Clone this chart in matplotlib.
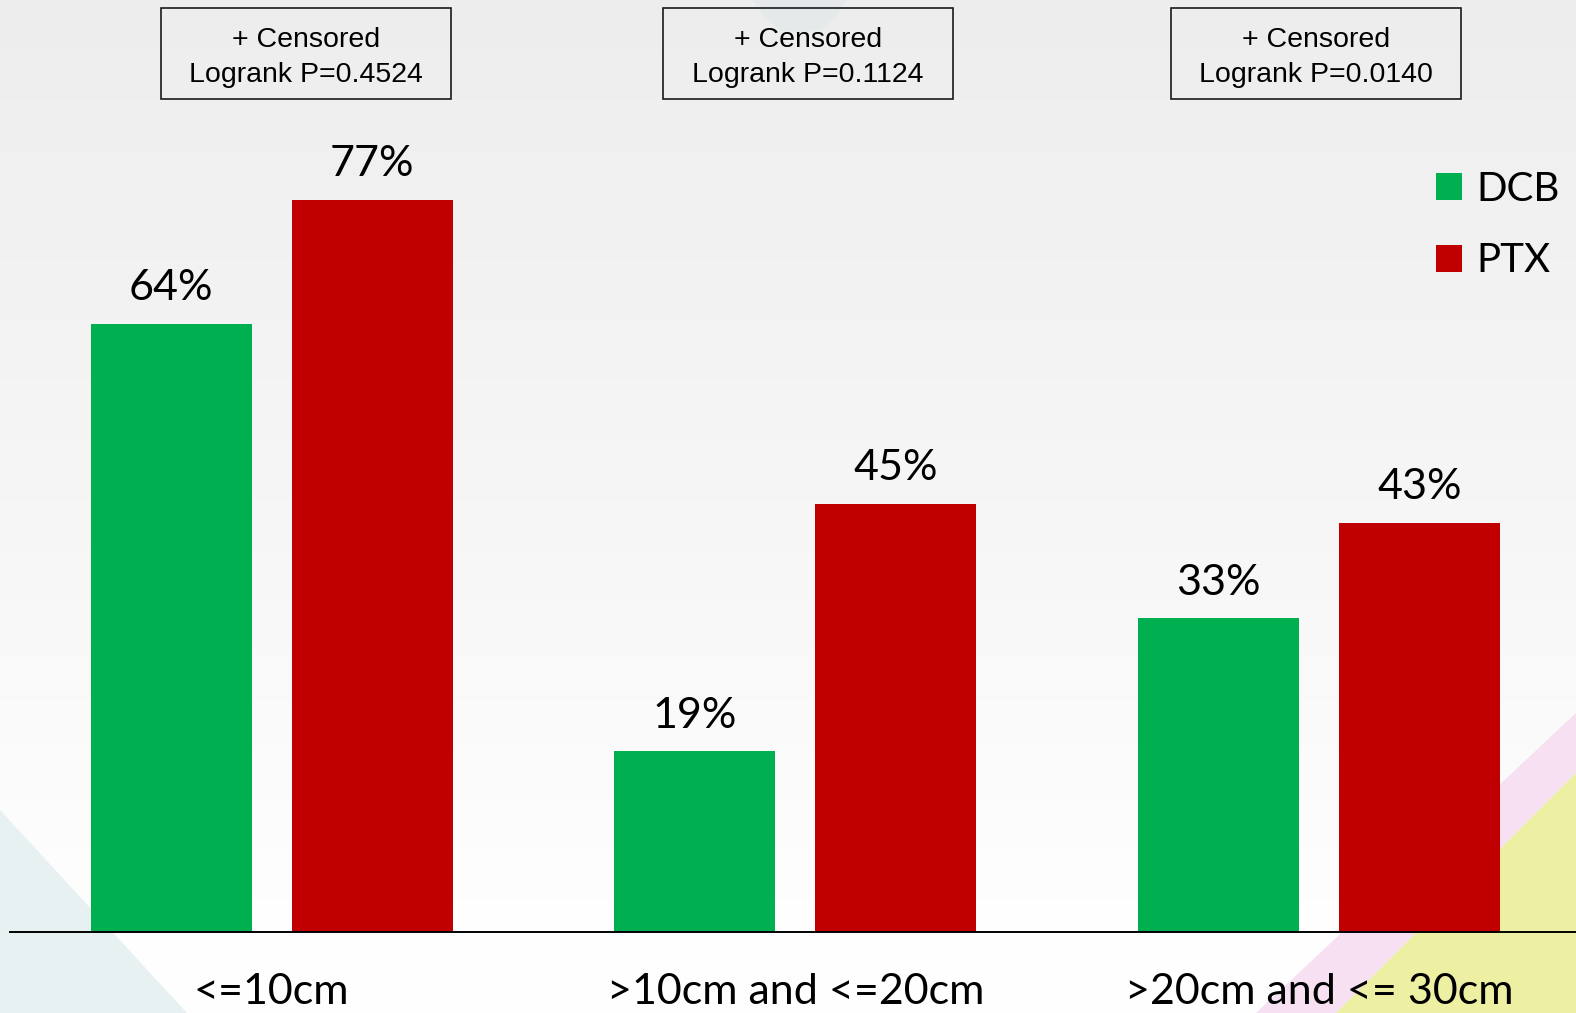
import numpy as np
import matplotlib
matplotlib.use("Agg")
from matplotlib import pyplot as plt
from matplotlib.patches import Rectangle, Polygon

# Значения по группам длины поражения
categories = ["<=10cm", ">10cm and <=20cm", ">20cm and <= 30cm"]
dcb_values = [64, 19, 33]
ptx_values = [77, 45, 43]
series_names = ["DCB", "PTX"]
logrank_p = ["0.4524", "0.1124", "0.0140"]

W, H = 1576, 1013
GREEN = "#00B050"
RED = "#C00000"

fig = plt.figure(figsize=(W / 100, H / 100), dpi=100)

# Фон слайда: вертикальный градиент и декоративные треугольники (в пикселях)
bg = fig.add_axes([0, 0, 1, 1], zorder=0)
bg.set_xlim(0, W)
bg.set_ylim(H, 0)
bg.axis("off")
stops_y = [0, 200, 500, 750, 900, H]
stops_c = [237, 241, 246, 251, 254, 255]
col = np.interp(np.arange(H), stops_y, stops_c) / 255.0
grad = np.stack([col, col, col], axis=-1).reshape(H, 1, 3)
bg.imshow(grad, extent=[0, W, H, 0], aspect="auto", interpolation="bilinear")
bg.add_patch(Polygon([(0, 810), (187, 1013), (0, 1013)], closed=True, color="#E8F1F2", lw=0))
bg.add_patch(Polygon([(1576, 713), (1256, 1013), (1576, 1013)], closed=True, color="#F6E0F2", lw=0))
bg.add_patch(Polygon([(1576, 773), (1336, 1013), (1576, 1013)], closed=True, color="#EDEFA2", lw=0))
bg.add_patch(Polygon([(752, 0), (847, 0), (835, 18), (820, 30), (800, 33), (781, 30), (765, 18)],
                     closed=True, color="#E5E9E9", lw=0))

# Рамки с результатами логранк-теста
box_left = [161, 663, 1171]
box_w, box_top, box_h = 290, 8, 91
for left, p in zip(box_left, logrank_p):
    bg.add_patch(Rectangle((left, box_top), box_w, box_h, fill=False, ec="#1a1a1a", lw=1.2))
    cx = left + box_w / 2
    bg.text(cx, 46.5, "+ Censored", ha="center", va="baseline",
            fontsize=20.5, family="Liberation Sans", color="black")
    bg.text(cx, 81.5, "Logrank P=" + p, ha="center", va="baseline",
            fontsize=20.5, family="Liberation Sans", color="black")

# Основной график со столбцами
ax = fig.add_axes([0, 0, 1, 1], zorder=1)
ax.patch.set_alpha(0)
ax.set_xlim(-0.519, 2.491)
ax.set_ylim(-8.55, 98.04)
ax.axis("off")

x = np.arange(len(categories))
offset = 0.1919
width = 0.307
bars_dcb = ax.bar(x - offset, dcb_values, width, color=GREEN, label=series_names[0])
bars_ptx = ax.bar(x + offset, ptx_values, width, color=RED, label=series_names[1])

for bars, vals in [(bars_dcb, dcb_values), (bars_ptx, ptx_values)]:
    for b, v in zip(bars, vals):
        ax.annotate(f"{v}%", (b.get_x() + b.get_width() / 2, v), xytext=(0, 17),
                    textcoords="offset points", ha="center", va="baseline",
                    fontsize=31, family="Lato", color="black")

ax.axhline(0, xmin=10 / W, xmax=1, color="black", lw=1.4)

# подписи категорий у нижнего края
for xi, name in zip(x, categories):
    ax.text(xi, -7.6, name, ha="center", va="baseline", fontsize=31, family="Lato", color="black")

leg = ax.legend(handles=[bars_dcb, bars_ptx], loc="upper left",
                bbox_to_anchor=(1436 / W, 1 - 171 / H), bbox_transform=fig.transFigure,
                frameon=False, prop={"family": "Lato", "size": 29},
                handlelength=0.65, handleheight=0.65, handletextpad=0.35,
                labelspacing=0.85, borderpad=0, borderaxespad=0)

plt.savefig("out.png", dpi=100)
